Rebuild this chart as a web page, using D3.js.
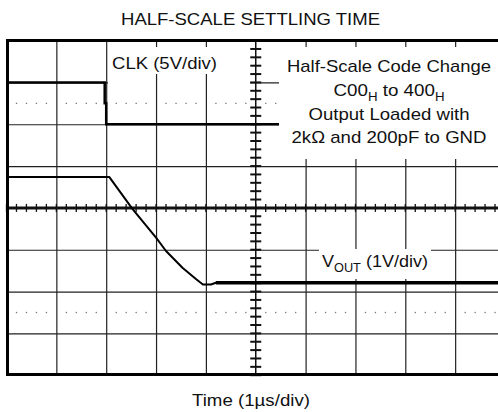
<!DOCTYPE html>
<html>
<head>
<meta charset="utf-8">
<title>Half-Scale Settling Time</title>
<script src="https://cdn.jsdelivr.net/npm/d3@7"></script>
<style>
  body { margin: 0; background: #fff; }
  svg { display: block; }
  text { font-family: 'Liberation Sans', Arial, Helvetica, sans-serif; fill: #111; }
  .grid line { stroke: #222; stroke-width: 1.2; }
  .grid path { display: none; }
</style>
</head>
<body>
<svg width="498" height="412"></svg>
<script>
// time in µs (1 µs/div), vertical in divisions from the centre line
const xDivs = [1, 2, 3, 4, 6, 7, 8, 9];
const yDivs = [-3, -2, -1, 1, 2, 3];
const dotRows = [2.5, -2.5];

const clkT = [0, 1.97, 1.97, 2.0, 2.0, 10];
const clkV = [3, 3, 2.5, 2.5, 2, 2];

const voutT = [0, 2.06, 2.53, 3.0, 3.2, 3.53, 3.80, 3.94, 4.10, 4.20, 10];
const voutV = [0.74, 0.74, -0.03, -0.71, -1.03, -1.43, -1.70, -1.83, -1.83, -1.79, -1.79];
const settleFrom = 4.2;

const annotLines = ['Half-Scale Code Change', 'C00|H| to 400|H', 'Output Loaded with', '2kΩ and 200pF to GND'];
const annotWidths = [204, 111, 161, 195];

const svg = d3.select('svg');
const x = d3.scaleLinear().domain([0, 10]).range([6.5, 505]);
const y = d3.scaleLinear().domain([-4, 4]).range([375.2, 40.6]);
const x0 = x(5), y0 = y(0);

// horizontal grid
svg.append('g').attr('class', 'grid')
  .attr('transform', `translate(${x(0)},0)`)
  .call(d3.axisLeft(y).tickValues(yDivs).tickSize(-(x(10) - x(0))).tickFormat(''));

// grid line under the CLK label is blank in the original
svg.append('rect').attr('x', 108).attr('y', y(3) - 2).attr('width', 142).attr('height', 4).attr('fill', '#fff');

// vertical grid
svg.append('g').attr('class', 'grid')
  .attr('transform', `translate(0,${y(-4)})`)
  .call(d3.axisBottom(x).tickValues(xDivs).tickSize(-(y(-4) - y(4))).tickFormat(''));

// dotted rows
const minor = d3.range(0, 10.001, 0.2).filter(d => Math.abs(d - Math.round(d)) > 0.01);
dotRows.forEach(r => {
  svg.append('g').selectAll('rect').data(minor).join('rect')
    .attr('x', d => x(d) - 0.6).attr('y', y(r) - 0.6)
    .attr('width', 1.3).attr('height', 1.3).attr('fill', '#777');
});

// centre axes with minor ticks
svg.append('line').attr('x1', x(0)).attr('x2', x(10)).attr('y1', y0).attr('y2', y0)
  .attr('stroke', '#111').attr('stroke-width', 3);
svg.append('g').selectAll('line').data(d3.range(0, 10.001, 0.2)).join('line')
  .attr('x1', d => x(d)).attr('x2', d => x(d))
  .attr('y1', y0 - 4).attr('y2', y0 + 4)
  .attr('stroke', '#111').attr('stroke-width', 1.3);
svg.append('line').attr('x1', x0).attr('x2', x0).attr('y1', y(4)).attr('y2', y(-4))
  .attr('stroke', '#111').attr('stroke-width', 1.5);
svg.append('g').selectAll('line').data(d3.range(-4, 4.001, 0.2)).join('line')
  .attr('x1', x0 - 5.5).attr('x2', x0 + 5.5)
  .attr('y1', d => y(d)).attr('y2', d => y(d))
  .attr('stroke', '#111').attr('stroke-width', 2);

// traces
const line = d3.line().x(d => x(d[0])).y(d => y(d[1]));
svg.append('path').datum(clkT.map((t, i) => [t, clkV[i]]))
  .attr('d', line).attr('fill', 'none').attr('stroke', '#000').attr('stroke-width', 2.5);
const vout = voutT.map((t, i) => [t, voutV[i]]);
svg.append('path').datum(vout)
  .attr('d', line).attr('fill', 'none').attr('stroke', '#000').attr('stroke-width', 2)
  .attr('stroke-linejoin', 'round');
svg.append('path').datum(vout.filter(d => d[0] >= settleFrom))
  .attr('d', line).attr('fill', 'none').attr('stroke', '#000').attr('stroke-width', 3.5);

// frame
svg.append('rect').attr('x', 7.5).attr('y', 40.5).attr('width', 500).attr('height', 334)
  .attr('fill', 'none').attr('stroke', '#000').attr('stroke-width', 3);

// label boxes
svg.append('rect').attr('x', 108).attr('y', 47).attr('width', 142).attr('height', 27).attr('fill', '#fff');
svg.append('rect').attr('x', 279).attr('y', 47).attr('width', 226).attr('height', 112).attr('fill', '#fff');
svg.append('rect').attr('x', 319).attr('y', 249).attr('width', 112).attr('height', 30).attr('fill', '#fff');

// texts
function label(xc, yb, w, s) {
  return svg.append('text').attr('x', xc).attr('y', yb).attr('text-anchor', 'middle')
    .attr('font-size', 17).attr('textLength', w).attr('lengthAdjust', 'spacingAndGlyphs').text(s);
}
label(250.5, 25, 259, 'HALF-SCALE SETTLING TIME');
label(251, 406, 118, 'Time (1µs/div)');
label(164.5, 69, 105, 'CLK (5V/div)');

const vl = svg.append('text').attr('x', 375).attr('y', 267).attr('text-anchor', 'middle')
  .attr('font-size', 17).attr('textLength', 106).attr('lengthAdjust', 'spacingAndGlyphs');
vl.append('tspan').text('V');
vl.append('tspan').attr('font-size', 12).attr('dy', 5).text('OUT');
vl.append('tspan').attr('dy', -5).text(' (1V/div)');

annotLines.forEach((s, i) => {
  const t = svg.append('text').attr('x', 389).attr('y', 72 + i * 23.8)
    .attr('text-anchor', 'middle').attr('font-size', 17)
    .attr('textLength', annotWidths[i]).attr('lengthAdjust', 'spacingAndGlyphs');
  s.split('|').forEach((part, j) => {
    if (j % 2 === 1) t.append('tspan').attr('font-size', 12).attr('dy', 5).text(part);
    else t.append('tspan').attr('dy', j > 0 ? -5 : 0).text(part);
  });
});
</script>
</body>
</html>
